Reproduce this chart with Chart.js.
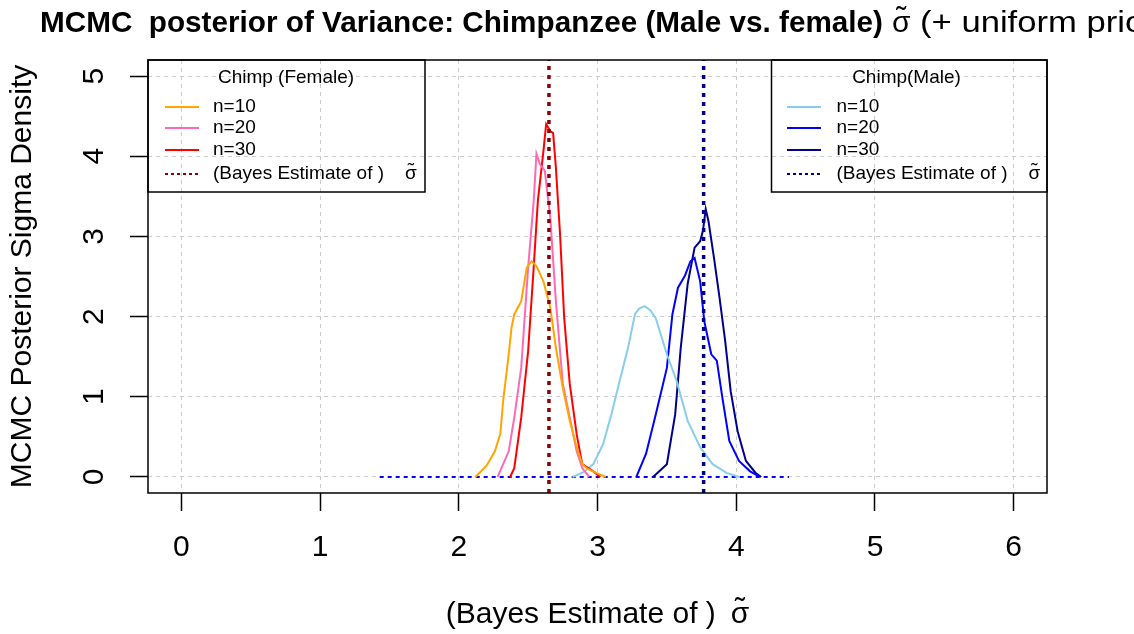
<!DOCTYPE html>
<html>
<head>
<meta charset="utf-8">
<title>MCMC posterior of Variance: Chimpanzee</title>
<script src="https://cdn.jsdelivr.net/npm/chart.js@4.4.0/dist/chart.umd.min.js"></script>
<style>
    html, body { margin: 0; padding: 0; background: #fff; }
    #chartWrap { width: 1134px; height: 634px; }
</style>
</head>
<body>
<div id="chartWrap"><canvas id="varianceChart" width="1134" height="634"></canvas></div>
<script>
/* ========================================
   MCMC POSTERIOR OF VARIANCE - CHIMPANZEE
   ======================================== */

// Axis ticks
const xTicks = [0, 1, 2, 3, 4, 5, 6];
const yTicks = [0, 1, 2, 3, 4, 5];

// Female posterior densities (x = sigma, y = density)
const femaleN10X = [2.12, 2.20, 2.26, 2.30, 2.32, 2.36, 2.38, 2.40, 2.45, 2.49, 2.525, 2.56, 2.61, 2.66, 2.70, 2.75, 2.80, 2.85, 2.89, 2.93, 2.99, 3.06];
const femaleN10Y = [0, 0.14, 0.32, 0.54, 0.95, 1.53, 1.86, 2.03, 2.19, 2.61, 2.69, 2.63, 2.44, 2.11, 1.61, 1.11, 0.70, 0.37, 0.16, 0.10, 0.05, 0];
const femaleN20X = [2.28, 2.36, 2.40, 2.45, 2.50, 2.54, 2.56, 2.585, 2.62, 2.66, 2.70, 2.75, 2.80, 2.85, 2.89, 2.94];
const femaleN20Y = [0, 0.32, 0.74, 1.36, 2.61, 3.44, 4.03, 3.90, 3.82, 3.23, 2.19, 1.16, 0.74, 0.32, 0.11, 0];
const femaleN30X = [2.37, 2.40, 2.45, 2.50, 2.54, 2.57, 2.61, 2.63, 2.66, 2.68, 2.70, 2.715, 2.73, 2.76, 2.80, 2.85, 2.89, 2.97, 3.02];
const femaleN30Y = [0, 0.11, 0.74, 1.57, 2.61, 3.44, 4.06, 4.40, 4.31, 4.29, 3.86, 3.44, 3.03, 1.98, 1.16, 0.53, 0.16, 0.07, 0];

// Male posterior densities
const maleN10X = [2.82, 2.90, 2.97, 3.04, 3.10, 3.16, 3.22, 3.27, 3.30, 3.34, 3.38, 3.42, 3.50, 3.57, 3.65, 3.74, 3.83, 3.93, 4.02];
const maleN10Y = [0, 0.06, 0.16, 0.41, 0.78, 1.20, 1.61, 2.03, 2.10, 2.13, 2.08, 1.98, 1.53, 1.20, 0.70, 0.37, 0.16, 0.05, 0];
const maleN20X = [3.28, 3.35, 3.42, 3.50, 3.54, 3.58, 3.63, 3.67, 3.70, 3.74, 3.77, 3.82, 3.86, 3.90, 3.95, 4.02, 4.10, 4.17];
const maleN20Y = [0, 0.29, 0.78, 1.36, 2.03, 2.36, 2.51, 2.69, 2.73, 2.44, 1.94, 1.53, 1.45, 0.99, 0.45, 0.20, 0.07, 0];
const maleN30X = [3.40, 3.50, 3.56, 3.60, 3.65, 3.70, 3.74, 3.76, 3.78, 3.80, 3.84, 3.88, 3.92, 3.96, 4.01, 4.07, 4.14, 4.18];
const maleN30Y = [0, 0.16, 0.78, 1.61, 2.41, 2.86, 2.94, 3.07, 3.34, 3.19, 2.73, 2.23, 1.70, 1.07, 0.57, 0.20, 0.05, 0];

// Bayes estimates of sigma
const femaleEstimate = 2.65;
const maleEstimate = 3.765;

// Dotted baseline under the densities
const baselineX = [1.43, 4.38];
const baselineY = [0, 0];

const FONT = "'Liberation Sans', Arial, sans-serif";

function toPoints(xs, ys) {
    return xs.map((x, i) => ({ x: x, y: ys[i] }));
}

function vLine(x) {
    return [{ x: x, y: -0.2 }, { x: x, y: 5.2 }];
}

function curve(label, xs, ys, color) {
    return {
        label: label,
        data: toPoints(xs, ys),
        borderColor: color,
        borderWidth: 2,
        pointRadius: 0,
        tension: 0,
        fill: false
    };
}

// sigma with a tilde on top (combining tilde renders badly in canvas)
function drawSigmaTilde(ctx, x, y, size) {
    ctx.save();
    ctx.textAlign = 'left';
    ctx.fillText('σ', x, y);
    const w = ctx.measureText('σ').width;
    ctx.textAlign = 'center';
    ctx.fillText('˜', x + w / 2, y - size * 0.17);
    ctx.restore();
    return w;
}

// Legend boxes (drawn by hand, R style)
function drawLegend(ctx, box, title, rows) {
    ctx.save();
    ctx.strokeStyle = '#000';
    ctx.lineWidth = 1.5;
    ctx.strokeRect(box.left, box.top, box.width, box.height);

    ctx.fillStyle = '#000';
    ctx.textBaseline = 'middle';
    ctx.font = '19px ' + FONT;
    ctx.textAlign = 'center';
    ctx.fillText(title, box.left + box.titleX, box.top + 18);

    ctx.textAlign = 'left';
    const rowY = [47, 68, 90, 114];
    rows.forEach(function(row, i) {
        const y = box.top + rowY[i];
        ctx.beginPath();
        ctx.strokeStyle = row.color;
        ctx.lineWidth = 2;
        ctx.setLineDash(row.dash || []);
        ctx.moveTo(box.left + box.lineX, y);
        ctx.lineTo(box.left + box.lineX + 34, y);
        ctx.stroke();
        ctx.setLineDash([]);
        ctx.fillText(row.text, box.left + box.textX, y);
        if (row.sigma) {
            drawSigmaTilde(ctx, box.left + box.textX + 192, y, 19);
        }
    });
    ctx.restore();
}

// Main title: bold part + regular part
function drawTitle(ctx) {
    ctx.save();
    ctx.fillStyle = '#000';
    ctx.textBaseline = 'alphabetic';
    ctx.font = 'bold 30px ' + FONT;
    const boldText = 'MCMC  posterior of Variance: Chimpanzee (Male vs. female)';
    const sx = 843 / ctx.measureText(boldText).width;
    ctx.save();
    ctx.translate(40, 32);
    ctx.scale(sx, 1);
    ctx.fillText(boldText, 0, 0);
    ctx.restore();

    ctx.font = '30px ' + FONT;
    drawSigmaTilde(ctx, 892, 32, 30);
    const sx2 = 205 / ctx.measureText('(+ uniform pri').width;
    ctx.translate(920, 32);
    ctx.scale(sx2, 1);
    ctx.fillText('(+ uniform prior)', 0, 0);
    ctx.restore();
}

// x axis title with sigma tilde
function drawXTitle(ctx, area) {
    ctx.save();
    ctx.fillStyle = '#000';
    ctx.font = '30px ' + FONT;
    ctx.textBaseline = 'alphabetic';
    const text = '(Bayes Estimate of )';
    const w1 = ctx.measureText(text).width;
    const w2 = ctx.measureText('σ').width;
    const total = w1 + 15 + w2;
    const x0 = (area.left + area.right) / 2 - total / 2;
    ctx.textAlign = 'left';
    ctx.fillText(text, x0, 623);
    drawSigmaTilde(ctx, x0 + w1 + 15, 623, 30);
    ctx.restore();
}

const rPlotExtras = {
    id: 'rPlotExtras',
    afterDraw(chart) {
        const ctx = chart.ctx;
        const area = chart.chartArea;

        // plot box
        ctx.save();
        ctx.strokeStyle = '#000';
        ctx.lineWidth = 1.5;
        ctx.strokeRect(area.left, area.top, area.right - area.left, area.bottom - area.top);
        ctx.restore();

        drawLegend(ctx,
            { left: area.left, top: area.top, width: 277, height: 132, titleX: 138, lineX: 17, textX: 65 },
            'Chimp (Female)',
            [
                { text: 'n=10', color: '#FFA500' },
                { text: 'n=20', color: '#FF69B4' },
                { text: 'n=30', color: '#FF0000' },
                { text: '(Bayes Estimate of )', color: '#8B0000', dash: [3, 3], sigma: true }
            ]);

        drawLegend(ctx,
            { left: area.right - 275.5, top: area.top, width: 275.5, height: 132, titleX: 135, lineX: 15.5, textX: 65 },
            'Chimp(Male)',
            [
                { text: 'n=10', color: '#87CEEB' },
                { text: 'n=20', color: '#0000FF' },
                { text: 'n=30', color: '#00008B' },
                { text: '(Bayes Estimate of )', color: '#00008B', dash: [3, 3], sigma: true }
            ]);

        drawXTitle(ctx, area);
        drawTitle(ctx);
    }
};

function initChart() {
    const ctx = document.getElementById('varianceChart');
    if (!ctx) return;

    new Chart(ctx.getContext('2d'), {
        type: 'line',
        data: {
            datasets: [
                {
                    label: 'Female estimate',
                    data: vLine(femaleEstimate),
                    borderColor: '#8B0000',
                    borderWidth: 3.5,
                    borderDash: [4, 5],
                    pointRadius: 0
                },
                {
                    label: 'Male estimate',
                    data: vLine(maleEstimate),
                    borderColor: '#00008B',
                    borderWidth: 3.5,
                    borderDash: [4, 5],
                    pointRadius: 0
                },
                curve('Female n=10', femaleN10X, femaleN10Y, '#FFA500'),
                curve('Female n=20', femaleN20X, femaleN20Y, '#FF69B4'),
                curve('Female n=30', femaleN30X, femaleN30Y, '#FF0000'),
                curve('Male n=10', maleN10X, maleN10Y, '#87CEEB'),
                curve('Male n=20', maleN20X, maleN20Y, '#0000FF'),
                curve('Male n=30', maleN30X, maleN30Y, '#00008B'),
                {
                    label: 'Baseline',
                    data: toPoints(baselineX, baselineY),
                    borderColor: '#0000FF',
                    borderWidth: 2,
                    borderDash: [4, 4],
                    pointRadius: 0
                }
            ]
        },
        options: {
            responsive: false,
            animation: false,
            devicePixelRatio: 1,
            layout: {
                padding: { top: 60, right: 87, left: 0, bottom: 0 }
            },
            plugins: {
                legend: { display: false },
                title: { display: false },
                tooltip: { enabled: false }
            },
            scales: {
                x: {
                    type: 'linear',
                    min: -0.24,
                    max: 6.24,
                    afterBuildTicks: s => { s.ticks = xTicks.map(v => ({ value: v })); },
                    afterFit: s => { s.height = 141; },
                    grid: {
                        color: '#cccccc',
                        lineWidth: 1,
                        tickColor: '#000',
                        tickLength: 18,
                        tickWidth: 1.5
                    },
                    border: { display: false, dash: [4, 4] },
                    ticks: {
                        color: '#000',
                        font: { family: FONT, size: 30 },
                        padding: 19,
                        maxRotation: 0
                    }
                },
                y: {
                    type: 'linear',
                    min: -0.2,
                    max: 5.2,
                    afterBuildTicks: s => { s.ticks = yTicks.map(v => ({ value: v })); },
                    afterFit: s => { s.width = 148; },
                    grid: {
                        color: '#cccccc',
                        lineWidth: 1,
                        tickColor: '#000',
                        tickLength: 18,
                        tickWidth: 1.5
                    },
                    border: { display: false, dash: [4, 4] },
                    ticks: {
                        color: '#000',
                        font: { family: FONT, size: 30 },
                        padding: 27,
                        minRotation: 90,
                        maxRotation: 90,
                        crossAlign: 'center'
                    },
                    title: {
                        display: true,
                        text: 'MCMC Posterior Sigma Density',
                        color: '#000',
                        font: { family: FONT, size: 30 },
                        padding: { top: 5, bottom: 0 }
                    }
                }
            }
        },
        plugins: [rPlotExtras]
    });
}

// Initialize when DOM is ready
document.addEventListener('DOMContentLoaded', function() {
    initChart();
});
</script>
</body>
</html>
